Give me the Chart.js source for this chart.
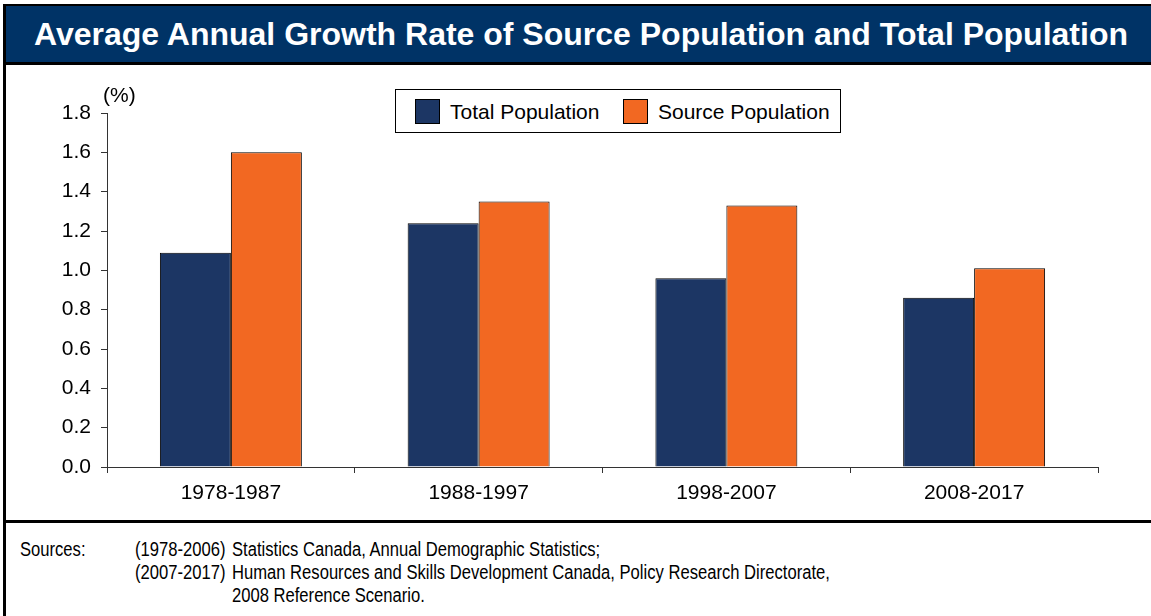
<!DOCTYPE html>
<html>
<head>
<meta charset="utf-8">
<script src="https://cdn.jsdelivr.net/npm/chart.js@4"></script>
<style>
  html, body { margin: 0; padding: 0; background: #fff; }
  body { width: 1151px; height: 616px; position: relative; overflow: hidden; font-family: "Liberation Sans", Arial, sans-serif; }
  #frame { position: absolute; left: 3px; top: 4px; width: 1150px; height: 620px; border-left: 3px solid #000; border-top: 2px solid #000; }
  #titre { position: absolute; left: 0; top: 0; width: 100%; height: 56px; background: #003366; color: #fff;
           font-weight: bold; font-size: 32px; line-height: 56px; text-align: center; border-bottom: 3px solid #000; }
  #grafico { position: absolute; left: 0; top: 59px; }
  #legenda { position: absolute; left: 389px; top: 83px; width: 444px; height: 42px; border: 1px solid #000; background: #fff; }
  .item { position: absolute; top: 9px; height: 25px; font-size: 21px; line-height: 25px; color: #000; white-space: nowrap; }
  .item span.cor { display: inline-block; width: 23px; height: 23px; border: 1px solid #000; vertical-align: top; margin-right: 10px; }
  #fontes { position: absolute; left: 0; top: 514px; width: 100%; border-top: 3px solid #000; font-family: "Liberation Sans", Arial, sans-serif; font-size: 20px; }
  .linha { position: absolute; white-space: nowrap; transform: scaleX(0.83); transform-origin: 0 50%; }
</style>
</head>
<body>
<div id="frame">
  <div id="titre">Average Annual Growth Rate of Source Population and Total Population</div>
  <canvas id="grafico" width="1145" height="455"></canvas>
  <div id="legenda"></div>
  <div id="fontes">
    <div class="linha" style="left:14px; top:15px;">Sources:</div>
    <div class="linha" style="left:129px; top:15px;">(1978-2006)</div>
    <div class="linha" style="left:226px; top:15px;">Statistics Canada, Annual Demographic Statistics;</div>
    <div class="linha" style="left:129px; top:38px;">(2007-2017)</div>
    <div class="linha" style="left:226px; top:38px;">Human Resources and Skills Development Canada, Policy Research Directorate,</div>
    <div class="linha" style="left:226px; top:61px;">2008 Reference Scenario.</div>
  </div>
</div>

<script>
// Dados do gráfico
const periodos = ['1978-1987', '1988-1997', '1998-2007', '2008-2017'];
const populacaoTotal = [1.09, 1.24, 0.96, 0.86];
const populacaoFonte = [1.60, 1.35, 1.33, 1.01];
const ticksY = [0, 0.2, 0.4, 0.6, 0.8, 1.0, 1.2, 1.4, 1.6, 1.8];

const corTotal = '#1C3664';
const corFonte = '#F26822';

// Rótulo "(%)" por cima do eixo Y
const rotuloPercent = {
    id: 'rotuloPercent',
    afterDraw(chart) {
        const ctx = chart.ctx;
        const y = chart.scales.y;
        ctx.save();
        ctx.font = '21px "Liberation Sans", Arial, sans-serif';
        ctx.fillStyle = '#000';
        ctx.textAlign = 'left';
        ctx.textBaseline = 'middle';
        ctx.fillText('(%)', y.right - 4, chart.chartArea.top - 17);
        ctx.restore();
    }
};

const grafico = new Chart(document.getElementById('grafico'), {
    type: 'bar',
    data: {
        labels: periodos,
        datasets: [
            { label: 'Total Population', data: populacaoTotal, backgroundColor: corTotal, borderColor: '#000', borderWidth: 1 },
            { label: 'Source Population', data: populacaoFonte, backgroundColor: corFonte, borderColor: '#000', borderWidth: 1 }
        ]
    },
    options: {
        responsive: false,
        animation: false,
        layout: { padding: { top: 48, right: 53, bottom: 0, left: 0 } },
        datasets: { bar: { barPercentage: 1, categoryPercentage: 0.573 } },
        plugins: { legend: { display: false }, tooltip: { enabled: false } },
        scales: {
            x: {
                grid: { offset: true, drawOnChartArea: false, tickLength: 6, color: '#333' },
                border: { color: '#333', width: 1 },
                ticks: { color: '#000', font: { family: '"Liberation Sans", Arial', size: 21 }, padding: 8, maxRotation: 0 },
                afterFit: s => { s.height = 53; }
            },
            y: {
                min: 0,
                max: 1.8,
                afterBuildTicks: s => { s.ticks = ticksY.map(v => ({ value: v })); },
                grid: { drawOnChartArea: false, tickLength: 6, color: '#333' },
                border: { color: '#333', width: 1 },
                ticks: { color: '#000', font: { family: '"Liberation Sans", Arial', size: 21 }, padding: 10,
                         callback: v => Number(v).toFixed(1) },
                afterFit: s => { s.width = 101; }
            }
        }
    },
    plugins: [rotuloPercent]
});

// Legenda em HTML construída a partir dos datasets
const legenda = document.getElementById('legenda');
const posicoes = [19, 227];
grafico.data.datasets.forEach((ds, i) => {
    const item = document.createElement('div');
    item.className = 'item';
    item.style.left = posicoes[i] + 'px';
    item.innerHTML = '<span class="cor" style="background:' + ds.backgroundColor + '"></span>' + ds.label;
    legenda.appendChild(item);
});
</script>
</body>
</html>
